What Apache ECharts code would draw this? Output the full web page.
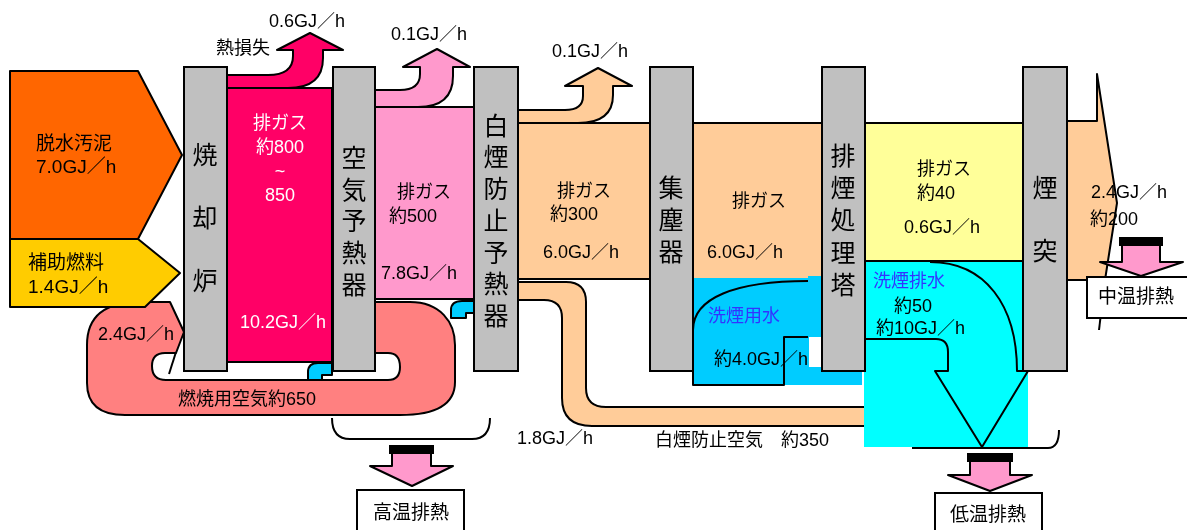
<!DOCTYPE html>
<html>
<head>
<meta charset="utf-8">
<script src="https://cdn.jsdelivr.net/npm/echarts@6/dist/echarts.min.js"></script>
<style>
  html, body { margin: 0; padding: 0; background: #fff; }
  #main { width: 1187px; height: 530px; }
</style>
</head>
<body>
<div id="main"></div>
<script>
// ---- data ----
const equipment = ['焼却炉', '空気予熱器', '白煙防止予熱器', '集塵器', '排煙処理塔', '煙突'];
const inputNames = ['脱水汚泥', '補助燃料', '燃焼用空気約650'];
const inputHeat = ['7.0GJ／h', '1.4GJ／h', '2.4GJ／h'];
const gasName = '排ガス';
const gasTemp = ['約800\n~\n850', '約500', '約300', '', '約40', '約200'];
const gasHeat = ['10.2GJ／h', '7.8GJ／h', '6.0GJ／h', '6.0GJ／h', '0.6GJ／h', '2.4GJ／h'];
const lossName = '熱損失';
const lossHeat = ['0.6GJ／h', '0.1GJ／h', '0.1GJ／h'];
const waterNames = ['洗煙用水', '洗煙排水'];
const waterTemp = ['', '約50'];
const waterHeat = ['約4.0GJ／h', '約10GJ／h'];
const bypassName = '白煙防止空気　約350';
const bypassHeat = '1.8GJ／h';
const exhaustHeat = ['高温排熱', '中温排熱', '低温排熱'];

// ---- layout of the diagram ----
const FONT = '"Liberation Sans", "Noto Sans CJK JP", sans-serif';
const items = [];
function path(d, fill, stroke, lw) { items.push({ kind: 'path', d: d, fill: fill, stroke: stroke, lw: lw }); }
function rect(x1, y1, x2, y2, fill, stroke) { items.push({ kind: 'rect', r: [x1, y1, x2, y2], fill: fill, stroke: stroke }); }
function text(t, x, y, opt) { items.push(Object.assign({ kind: 'text', text: t, x: x, y: y }, opt || {})); }

// 白煙防止空気 band
path('M 518 282 L 566 282 Q 586 282 586 302 L 586 388 Q 586 407 606 407 L 866 407 L 866 426 L 592 426 Q 562 426 562 398 L 562 318 Q 562 300 544 300 L 518 300 Z', '#FFCC99');
// 燃焼用空気 loop
path('M 360 302 L 410 302 C 440 302 455 322 455 345 L 455 382 C 455 405 435 415 400 415 L 125 415 Q 87 415 87 383 L 87 345 Q 87 302 140 302 L 170 302 L 184 332 L 360 302 Z', '#FF8080');
path('M 184 332 L 176 353 L 165 353 Q 152 353 152 366 Q 152 380 166 380 L 388 380 Q 400 380 400 367 Q 400 353 388 353 L 184 353 Z', '#FFFFFF');
path('M 176 352 L 169 374', null);
// exhaust gas blocks
rect(518, 123, 822, 279, '#FFCC99');
rect(227, 88, 332, 362, '#FF0066');
rect(375, 107, 474, 299, '#FF99CC');
rect(865, 123, 1023, 261, '#FFFF99');
path('M 1067 121 L 1097 121 L 1097 74 L 1117 203 L 1105 280 L 1067 280 Z', '#FFCC99');
path('M 1105 280 L 1099 330', null);
// heat loss arrows
path('M 227 75 L 268 75 Q 293 75 293 56 L 293 50 L 277 50 L 310 33 L 343 50 L 323 50 L 323 58 Q 323 88 288 88 L 227 88 Z', '#FF0066');
path('M 375 90 L 400 90 Q 420 90 420 74 L 420 67 L 403 67 L 437 49 L 470 67 L 453 67 L 453 76 Q 453 107 418 107 L 375 107 Z', '#FF99CC');
path('M 518 110 L 565 110 Q 583 110 583 96 L 583 86 L 565 86 L 598 68 L 632 86 L 613 86 L 613 95 Q 613 123 578 123 L 518 123 Z', '#FFCC99');
// washing water areas
rect(693, 278, 823, 385, '#00CCFF', 'none');
rect(808, 276, 823, 280, '#00CCFF', 'none');
rect(823, 370, 862, 385, '#00CCFF', 'none');
rect(809, 337, 822, 367, '#FFFFFF', 'none');
rect(864, 262, 1028, 447, '#00FFFF', 'none');
// brackets
path('M 912 448 L 1048 448 Q 1059 448 1059 430', null);
path('M 332 418 Q 332 439 350 439 L 472 439 Q 490 439 490 418', null);
// inputs
path('M 10 71 L 138 71 L 182 155 L 138 239 L 10 239 Z', '#FF6600');
path('M 10 239 L 138 239 L 180 273 L 145 307 L 10 307 Z', '#FFCC00');
// equipment columns
const colX = [[184, 227], [333, 375], [474, 518], [650, 693], [822, 865], [1023, 1067]];
colX.forEach(function (c) { rect(c[0], 67, c[1], 371, '#C0C0C0'); });
// outlines of water flows
path('M 808 281 C 735 281 693 298 693 330 L 693 385 L 784 385 L 784 337 L 808 337', null);
path('M 865 339 L 936 339 Q 948 339 948 352 L 948 371 L 935 371 L 982 447 L 1028 371 L 1017 371 C 1017 305 985 262 930 262', null);
// small cyan pieces
path('M 451 318 L 451 310 Q 451 301 462 301 L 474 301 L 474 313 L 466 313 L 466 318 Z', '#00CCFF');
path('M 308 380 L 308 372 Q 308 363 318 363 L 332 363 L 332 375 L 322 375 L 322 380 Z', '#00CCFF');
// heat recovery arrows and boxes
rect(390, 446, 433, 453, '#000000');
path('M 392 453 L 431 453 L 431 466 L 453 466 L 412 486 L 370 466 L 392 466 Z', '#FF99CC');
rect(968, 454, 1012, 461, '#000000');
path('M 970 461 L 1010 461 L 1010 475 L 1032 475 L 990 491 L 948 475 L 970 475 Z', '#FF99CC');
rect(1120, 238, 1162, 245, '#000000');
path('M 1122 245 L 1160 245 L 1160 262 L 1183 262 L 1141 276 L 1100 262 L 1122 262 Z', '#FF99CC');
rect(357, 490, 464, 540, '#FFFFFF');
rect(935, 493, 1042, 540, '#FFFFFF');
rect(1087, 277, 1192, 318, '#FFFFFF');

// ---- texts ----
const colText = [[205, 220, 63], [354, 223.5, 31.8], [496, 223, 31.7], [671, 222, 32], [843, 222.5, 32.2], [1045, 221.5, 63]];
equipment.forEach(function (name, i) {
  text(name.split('').join('\n'), colText[i][0], colText[i][1], { size: 25, align: 'center', lh: colText[i][2] });
});
text(inputNames[0], 36, 145, { size: 19 });
text(inputHeat[0], 36, 168, { size: 19 });
text(inputNames[1], 28, 264, { size: 19 });
text(inputHeat[1], 28, 288, { size: 19 });
text(inputHeat[2], 98, 335);
text(inputNames[2], 178, 400);

text(gasName + '\n' + gasTemp[0], 280, 160.5, { align: 'center', lh: 24, color: '#FFFFFF' });
text(gasHeat[0], 240, 323, { color: '#FFFFFF' });
text(gasName, 397, 193); text(gasTemp[1], 389, 217); text(gasHeat[1], 381, 274);
text(gasName, 557, 192); text(gasTemp[2], 550, 215); text(gasHeat[2], 543, 253);
text(gasName, 732, 202); text(gasHeat[3], 707, 253);
text(gasName, 917, 170); text(gasTemp[4], 917, 194); text(gasHeat[4], 904, 228);
text(gasHeat[5], 1091, 193); text(gasTemp[5], 1090, 220);

text(lossName, 216, 49);
text(lossHeat[0], 269, 22);
text(lossHeat[1], 391, 35);
text(lossHeat[2], 552, 52);

text(waterNames[0], 708, 317, { color: '#3333FF' });
text(waterHeat[0], 714, 360);
text(waterNames[1], 873, 282, { color: '#3333FF' });
text(waterTemp[1], 894, 307);
text(waterHeat[1], 876, 329);

text(bypassHeat, 517, 439);
text(bypassName, 655, 441);

text(exhaustHeat[0], 411, 514, { size: 19, align: 'center' });
text(exhaustHeat[1], 1136, 298, { size: 19, align: 'center' });
text(exhaustHeat[2], 988, 516, { size: 19, align: 'center' });

// ---- drawing ----
function mapPath(api, d) {
  const tk = d.trim().split(/[\s,]+/);
  const out = [];
  let buf = [];
  tk.forEach(function (t) {
    if (/^[A-Za-z]$/.test(t)) { out.push(t); }
    else {
      buf.push(+t);
      if (buf.length === 2) {
        const p = api.coord(buf);
        out.push(p[0].toFixed(1), p[1].toFixed(1));
        buf = [];
      }
    }
  });
  return out.join(' ');
}

function renderItem(params, api) {
  const it = items[params.dataIndex];
  const z2 = params.dataIndex;
  const stroke = it.stroke === undefined ? '#000' : it.stroke;
  if (it.kind === 'path') {
    return {
      type: 'path', z2: z2,
      shape: { pathData: mapPath(api, it.d) },
      style: { fill: it.fill || 'none', stroke: stroke, lineWidth: it.lw || 2, lineJoin: 'round' }
    };
  }
  if (it.kind === 'rect') {
    const a = api.coord([it.r[0], it.r[1]]);
    const b = api.coord([it.r[2], it.r[3]]);
    return {
      type: 'rect', z2: z2,
      shape: { x: a[0], y: a[1], width: b[0] - a[0], height: b[1] - a[1] },
      style: { fill: it.fill, stroke: stroke, lineWidth: 2 }
    };
  }
  const p = api.coord([it.x, it.y]);
  return {
    type: 'text', z2: z2,
    style: {
      text: it.text, x: p[0], y: p[1],
      fill: it.color || '#000',
      font: (it.size || 18) + 'px ' + FONT,
      align: it.align || 'left', verticalAlign: 'middle',
      lineHeight: it.lh
    }
  };
}

var myChart = echarts.init(document.getElementById('main'));
myChart.setOption({
  animation: false,
  grid: { left: 0, right: 0, top: 0, bottom: 0 },
  xAxis: { type: 'value', min: 0, max: 1187, show: false },
  yAxis: { type: 'value', min: 0, max: 530, inverse: true, show: false },
  series: [{
    type: 'custom',
    coordinateSystem: 'cartesian2d',
    renderItem: renderItem,
    silent: true,
    clip: false,
    data: items.map(function (_, i) { return [i, 0]; })
  }]
});
</script>
</body>
</html>
